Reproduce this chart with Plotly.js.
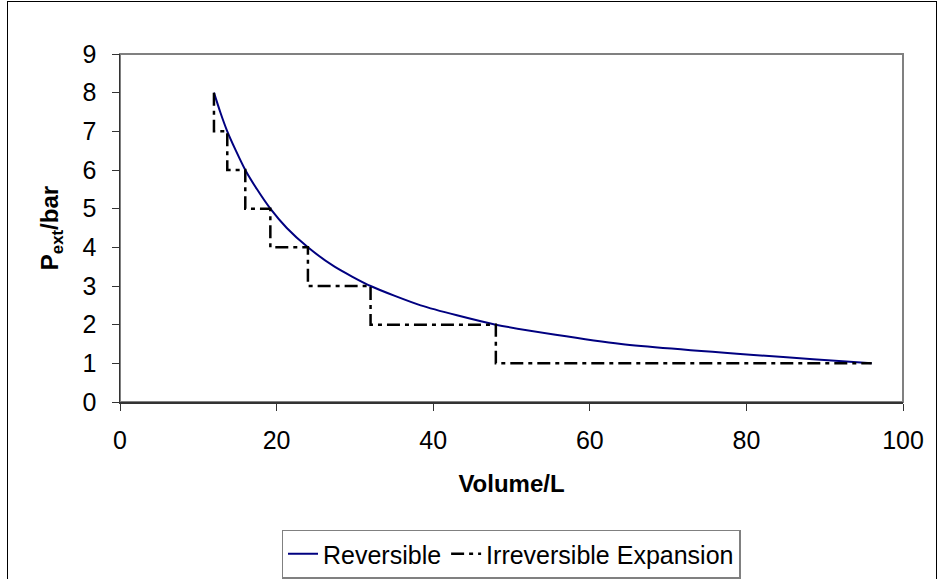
<!DOCTYPE html>
<html><head><meta charset="utf-8">
<script src="https://cdn.plot.ly/plotly-3.0.1.min.js"></script>
<style>html,body{margin:0;padding:0;background:#fff;overflow:hidden}#wrap{position:relative;width:938px;height:579px;overflow:hidden}#chart{width:938px;height:579px}#frame{position:absolute;left:7px;top:1px;width:928px;height:600px;border:1px solid #000;pointer-events:none}</style>
</head><body><div id="wrap"><div id="chart"></div><div id="frame"></div></div>
<script>
const revVolume = [12, 12.8, 13.7, 14.8, 16, 17.5, 19.2, 21.3, 24, 27.4, 32, 38.4, 48, 64, 96];
const revPressure = [8, 7.5, 7, 6.5, 6, 5.5, 5, 4.5, 4, 3.5, 3, 2.5, 2, 1.5, 1];
const irrVolume = [12, 12, 13.7, 13.7, 16, 16, 19.2, 19.2, 24, 24, 32, 32, 48, 48, 96];
const irrPressure = [8, 7, 7, 6, 6, 5, 5, 4, 4, 3, 3, 2, 2, 1, 1];
const xTicks = [0, 20, 40, 60, 80, 100];
const yTicks = [0, 1, 2, 3, 4, 5, 6, 7, 8, 9];

const fam = 'Liberation Sans, Arial, sans-serif';
const font = {family: fam, size: 25, color: '#000'};
const legendFont = {family: fam, size: 25, color: '#000'};
const titleFont = {family: fam, size: 24, color: '#000'};
const traces = [
  {x: revVolume, y: revPressure, mode: 'lines', name: 'Reversible',
   line: {color: '#000080', width: 2, shape: 'spline', smoothing: 0.6}},
  {x: irrVolume, y: irrPressure, mode: 'lines', name: 'Irreversible Expansion',
   line: {color: '#000', width: 2.5, dash: '13px,5px,4px,5px'}}
];
const layout = {
  width: 938, height: 579,
  margin: {l: 120, r: 35, t: 54, b: 177},
  paper_bgcolor: '#fff', plot_bgcolor: '#fff',
  font: font,
  showlegend: true,
  legend: {orientation: 'h', x: 511/938, xanchor: 'center', xref: 'container',
           y: 1 - 554/579, yanchor: 'middle', yref: 'container',
           bordercolor: '#808080', borderwidth: 1.5, bgcolor: '#fff', font: legendFont},
  xaxis: {range: [0, 100], tickvals: xTicks, ticktext: xTicks.map(String), showgrid: false, zeroline: false,
          showline: true, linecolor: '#333', linewidth: 1.5, ticks: 'outside', ticklen: 7, tickcolor: '#333',
          ticklabelstandoff: 8, tickfont: font, automargin: false,
          title: {text: '<b>Volume/L</b>', font: titleFont, standoff: 22}},
  yaxis: {range: [0, 9], tickvals: yTicks, ticktext: yTicks.map(String), showgrid: false, zeroline: false,
          showline: true, linecolor: '#333', linewidth: 1.5, ticks: 'outside', ticklen: 7, tickcolor: '#333',
          ticklabelstandoff: 10, tickfont: font, automargin: false,
          title: {text: '<b>P<sub>ext</sub>/bar</b>', font: titleFont, standoff: 17}},
  shapes: [{type: 'rect', xref: 'paper', yref: 'paper', x0: 0, x1: 1, y0: 0, y1: 1,
            line: {color: '#808080', width: 2}, layer: 'below'}]
};
Plotly.newPlot('chart', traces, layout, {displayModeBar: false, staticPlot: true});
</script></body></html>
